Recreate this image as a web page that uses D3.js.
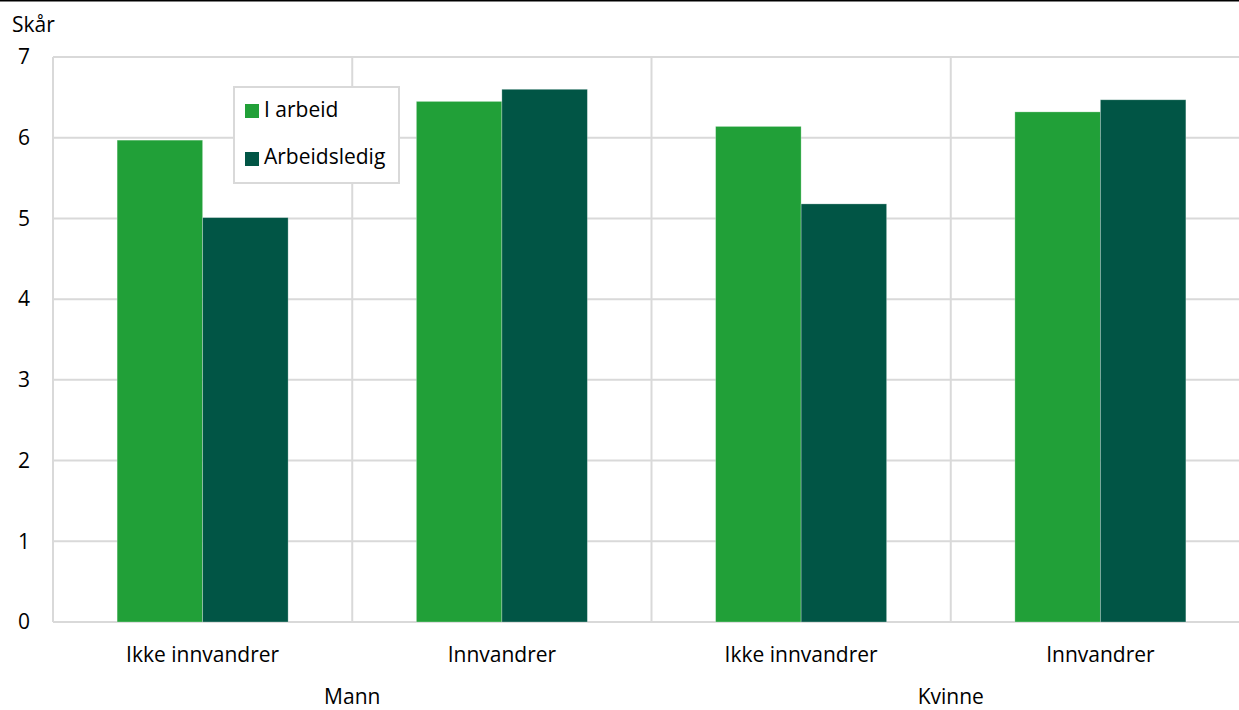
<!DOCTYPE html>
<html><head><meta charset="utf-8">
<script src="https://cdn.jsdelivr.net/npm/d3@7/dist/d3.min.js"></script>
<style>
html,body{margin:0;padding:0;background:#fff;}
svg{display:block;font-family:"Open Sans",sans-serif;}
</style></head>
<body>
<svg id="c" width="1239" height="710"></svg>
<script>
const groups = ["Mann", "Kvinne"];
const categories = ["Ikke innvandrer", "Innvandrer", "Ikke innvandrer", "Innvandrer"];
const seriesNames = ["I arbeid", "Arbeidsledig"];
const iArbeid = [5.97, 6.45, 6.14, 6.32];
const arbeidsledig = [5.01, 6.60, 5.18, 6.47];
const yTicks = [0, 1, 2, 3, 4, 5, 6, 7];
const colors = ["#21a038", "#015545"];

const FS = 21;
const svg = d3.select("#c");
const pLeft = 53, pRight = 1250, pTop = 57, pBottom = 622;
const idx = d3.range(categories.length);
const x = d3.scaleBand().domain(idx).range([pLeft, pRight]).paddingInner(0).paddingOuter(0);
const y = d3.scaleLinear().domain([0, 7]).range([pBottom, pTop]);
const xs = d3.scaleBand().domain([0, 1]).range([0, x.bandwidth()]).paddingInner(0).paddingOuter(0.75);

// top border
svg.append("line").attr("x1", 0).attr("x2", 1239).attr("y1", 0.75).attr("y2", 0.75)
  .attr("stroke", "#000").attr("stroke-width", 1.5);

const grid = "#d9d9d9";
// horizontal gridlines
svg.append("g").selectAll("line").data(yTicks).join("line")
  .attr("x1", pLeft).attr("x2", 1239)
  .attr("y1", d => y(d)).attr("y2", d => y(d))
  .attr("stroke", grid).attr("stroke-width", 2);
// vertical gridlines (category boundaries)
svg.append("g").selectAll("line").data(idx).join("line")
  .attr("x1", d => x(d)).attr("x2", d => x(d))
  .attr("y1", pTop).attr("y2", pBottom)
  .attr("stroke", grid).attr("stroke-width", 2);

// y axis labels
const yAxis = d3.axisLeft(y).tickValues(yTicks).tickSize(0).tickPadding(0).tickFormat(d3.format("d"));
const ya = svg.append("g").attr("transform", `translate(32,0)`).call(yAxis);
ya.select(".domain").remove();
ya.selectAll("text").attr("font-size", FS).attr("fill", "#000").attr("font-family", "'Open Sans',sans-serif")
  .attr("text-anchor", "middle").attr("x", -8);

svg.append("text").attr("x", 12).attr("y", 32).attr("font-size", FS).attr("fill", "#000").text("Skår");

// bars
const series = [iArbeid, arbeidsledig];
series.forEach((vals, s) => {
  svg.append("g").selectAll("rect").data(vals).join("rect")
    .attr("x", (d, i) => x(i) + xs(s))
    .attr("width", xs.bandwidth())
    .attr("y", d => y(d))
    .attr("height", d => y(0) - y(d))
    .attr("fill", colors[s])
    .attr("stroke", "#ffffff").attr("stroke-opacity", 0.35).attr("stroke-width", 0.8);
});

// category labels
const xa = d3.axisBottom(x).tickSize(0).tickPadding(0).tickFormat(i => categories[i]);
const xg = svg.append("g").attr("transform", `translate(0,${pBottom})`).call(xa);
xg.select(".domain").remove();
xg.selectAll("text").attr("font-size", FS).attr("fill", "#000").attr("font-family", "'Open Sans',sans-serif").attr("dy", null).attr("y", 40);

// group labels
const gx = d3.scaleBand().domain(groups).range([pLeft, pRight]);
svg.append("g").selectAll("text").data(groups).join("text")
  .attr("x", d => gx(d) + gx.bandwidth() / 2).attr("y", 704)
  .attr("text-anchor", "middle").attr("font-size", FS).attr("fill", "#000").text(d => d);

// legend
const lg = svg.append("g");
lg.append("rect").attr("x", 234).attr("y", 87).attr("width", 165).attr("height", 96)
  .attr("fill", "#fff").attr("stroke", grid).attr("stroke-width", 2);
seriesNames.forEach((n, i) => {
  lg.append("rect").attr("x", 245).attr("y", 104 + i * 48).attr("width", 14).attr("height", 14).attr("fill", colors[i]);
  lg.append("text").attr("x", 264).attr("y", 117 + i * 47).attr("font-size", FS).attr("fill", "#000").text(n);
});
</script>
</body></html>
